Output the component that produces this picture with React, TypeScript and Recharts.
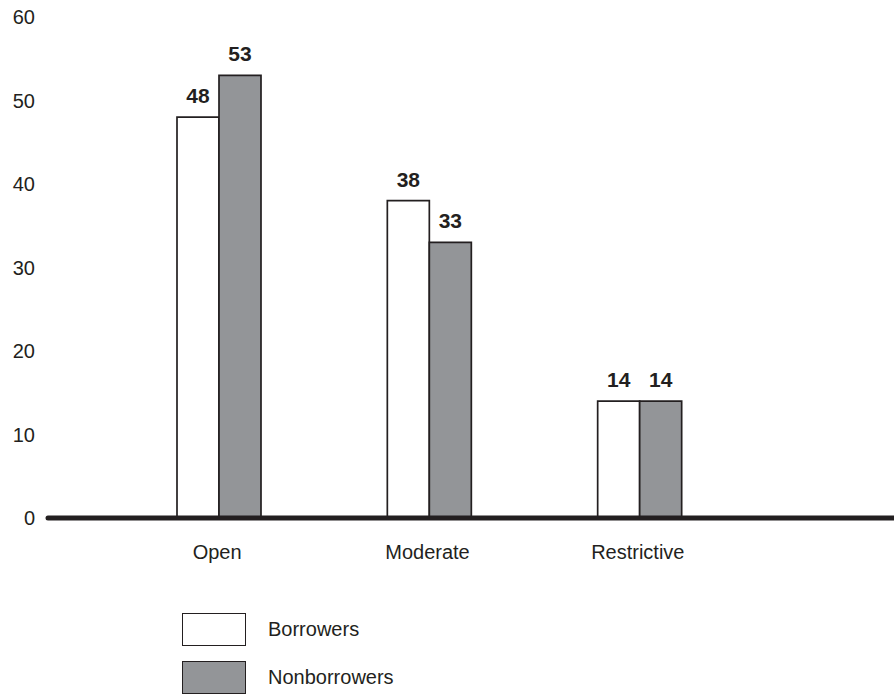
import { BarChart, Bar, XAxis, YAxis, LabelList } from 'recharts';

const categories = ['Open', 'Moderate', 'Restrictive'];
const borrowers = [48, 38, 14];
const nonborrowers = [53, 33, 14];
const yTicks = [0, 10, 20, 30, 40, 50, 60];

const series = [
    { key: 'borrowers', name: 'Borrowers', fill: '#ffffff' },
    { key: 'nonborrowers', name: 'Nonborrowers', fill: '#939598' },
];

const data = categories.map((c, i) => ({
    category: c,
    borrowers: borrowers[i],
    nonborrowers: nonborrowers[i],
}));

const ink = '#231f20';
const font = '"Liberation Sans", Arial, Helvetica, sans-serif';

export default function App() {
    return (
        <div style={{ position: 'absolute', left: 0, top: 0, width: 894, height: 694, fontFamily: font }}>
            <BarChart
                width={894}
                height={694}
                data={data}
                margin={{ top: 17, right: 0, left: 0, bottom: 116 }}
                barGap={0}
                barSize={42}
            >
                <XAxis
                    dataKey="category"
                    height={60}
                    padding={{ left: 66, right: 149 }}
                    axisLine={{ stroke: ink, strokeWidth: 5, strokeLinecap: 'round' }}
                    tickLine={false}
                    tickSize={0}
                    tickMargin={27}
                    tick={{ fontSize: 20, fill: ink, fontFamily: font, dx: -2 }}
                />
                <YAxis
                    width={48}
                    domain={[0, 60]}
                    ticks={yTicks}
                    axisLine={false}
                    tickLine={false}
                    tickSize={0}
                    tickMargin={13}
                    tick={{ fontSize: 20, fill: ink, fontFamily: font }}
                />
                {series.map((s) => (
                    <Bar
                        key={s.key}
                        dataKey={s.key}
                        name={s.name}
                        fill={s.fill}
                        stroke={ink}
                        strokeWidth={1.7}
                        isAnimationActive={false}
                    >
                        <LabelList
                            dataKey={s.key}
                            position="top"
                            offset={14}
                            style={{ fontSize: 21, fontWeight: 'bold', fill: ink, fontFamily: font }}
                        />
                    </Bar>
                ))}
            </BarChart>
            {/* legend drawn by hand, stacked under the axis */}
            {series.map((s, i) => (
                <div
                    key={s.key}
                    style={{ position: 'absolute', left: 182, top: 613 + i * 48, display: 'flex', alignItems: 'center' }}
                >
                    <div
                        style={{
                            width: 62,
                            height: 31,
                            background: s.fill,
                            border: `1.5px solid ${ink}`,
                        }}
                    />
                    <span style={{ marginLeft: 22, fontSize: 20, color: ink }}>{s.name}</span>
                </div>
            ))}
        </div>
    );
}
